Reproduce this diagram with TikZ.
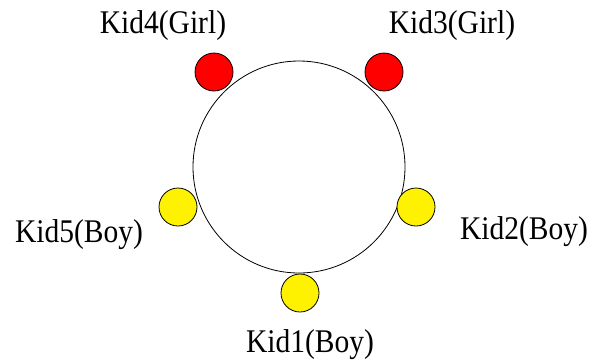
\documentclass[tikz,border=0pt]{standalone}
\usepackage{graphicx}
\usepackage{fontspec}
\setmainfont{Liberation Serif}
\begin{document}
\begin{tikzpicture}[x=1pt,y=-1pt,font=\fontsize{29.5}{32}\selectfont]
	\tikzset{kid/.style={circle,draw=black,line width=0.8pt,minimum size=38pt,inner sep=0pt},
		kidname/.style={anchor=base,inner sep=0pt}}
	\useasboundingbox (0,0) rectangle (602,360);
	\def\R{106pt}
	\path (299,167) coordinate (O);
	\draw[line width=0.8pt] (O) circle (\R);
	% kids round the table
	\foreach \n/\x/\y/\c in {1/300/293/yellow,2/416/207/yellow,3/384/72/red,4/214/72/red,5/178/207/yellow}
	\node[kid,fill=\c] (kid\n) at (\x,\y) {};
	% names
	\foreach \n/\x/\y/\t in {1/310/352/Boy,2/524/239/Boy,3/452/33/Girl,4/163/33/Girl,5/79/242/Boy}
	\node[kidname] (name\n) at (\x,\y) {\scalebox{1}[1.12]{Kid\n(\t)}};
\end{tikzpicture}
\end{document}
